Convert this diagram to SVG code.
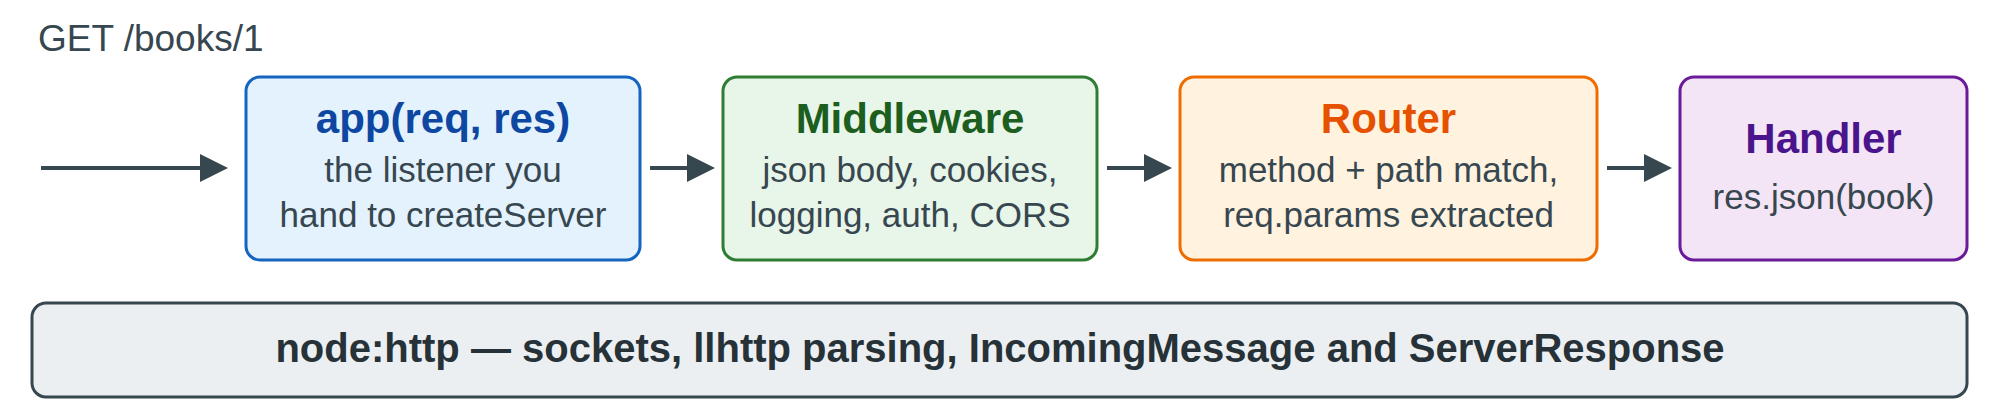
<svg xmlns="http://www.w3.org/2000/svg" width="2000" height="417" viewBox="0 0 2000 417">
<style>
  text { font-family: "Liberation Sans", Arial, sans-serif; text-anchor: middle; }
  .box { stroke-width: 3; }
  .title { font-size: 42px; font-weight: bold; }
  .btitle { font-size: 40px; font-weight: bold; }
  .sub { font-size: 35px; fill: #37474f; }
  .conn { stroke: #37474f; stroke-width: 4; fill: none; }
</style>
<defs>
  <marker id="arrow" markerUnits="userSpaceOnUse" markerWidth="28" markerHeight="28" refX="2" refY="14" orient="auto">
    <path d="M0,0 L28,14 L0,28 z" fill="#37474f"/>
  </marker>
</defs>
<rect width="2000" height="417" fill="#ffffff"/>
<text x="38" y="51" style="text-anchor:start;font-size:37px;fill:#37474f">GET /books/1</text>
<g id="connectors">
  <path class="conn" d="M41,168 H202" marker-end="url(#arrow)"/>
  <path class="conn" d="M650,168 H689" marker-end="url(#arrow)"/>
  <path class="conn" d="M1107,168 H1146" marker-end="url(#arrow)"/>
  <path class="conn" d="M1607,168 H1646" marker-end="url(#arrow)"/>
</g>
<g id="app">
  <rect class="box" x="246" y="77" width="394" height="183" rx="14" fill="#e3f2fd" stroke="#1565c0"/>
  <text class="title" x="443" y="133" fill="#0d47a1">app(req, res)</text>
  <text class="sub" x="443" y="182">the listener you</text>
  <text class="sub" x="443" y="227">hand to createServer</text>
</g>
<g id="middleware">
  <rect class="box" x="723" y="77" width="374" height="183" rx="14" fill="#e8f5e9" stroke="#2e7d32"/>
  <text class="title" x="910" y="133" fill="#1b5e20">Middleware</text>
  <text class="sub" x="910" y="182">json body, cookies,</text>
  <text class="sub" x="910" y="227">logging, auth, CORS</text>
</g>
<g id="router">
  <rect class="box" x="1180" y="77" width="417" height="183" rx="14" fill="#fff3e0" stroke="#ef6c00"/>
  <text class="title" x="1388.5" y="133" fill="#e65100">Router</text>
  <text class="sub" x="1388.5" y="182">method + path match,</text>
  <text class="sub" x="1388.5" y="227">req.params extracted</text>
</g>
<g id="handler">
  <rect class="box" x="1680" y="77" width="287" height="183" rx="14" fill="#f3e5f5" stroke="#6a1b9a"/>
  <text class="title" x="1823.5" y="153" fill="#4a148c">Handler</text>
  <text class="sub" x="1823.5" y="209">res.json(book)</text>
</g>
<g id="nodehttp">
  <rect class="box" x="32" y="303" width="1935" height="94" rx="14" fill="#eceff1" stroke="#37474f"/>
  <text class="btitle" x="1000" y="362" fill="#263238">node:http — sockets, llhttp parsing, IncomingMessage and ServerResponse</text>
</g>
</svg>
